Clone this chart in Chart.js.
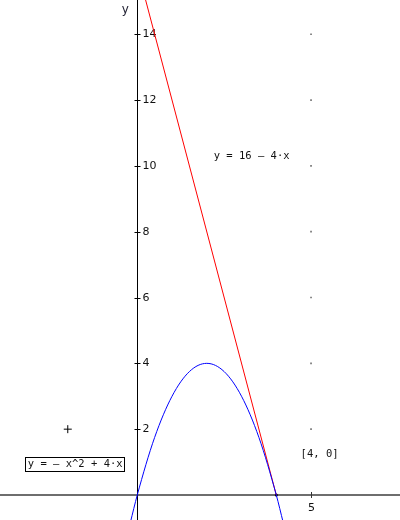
<!DOCTYPE html>
<html>
<head>
<meta charset="utf-8">
<script src="https://cdn.jsdelivr.net/npm/chart.js@4/dist/chart.umd.min.js"></script>
<style>
html,body{margin:0;padding:0;background:#fff;}
#wrap{width:400px;height:520px;position:relative;}
</style>
</head>
<body>
<div id="wrap"><canvas id="c" width="400" height="520"></canvas></div>
<script>
// ---- data ----
const tangentX = [0, 4];
const tangentY = [16, 0];
const parabolaX = [-0.2, 0, 0.5, 1, 1.5, 2, 2.5, 3, 3.5, 4, 4.2];
const parabolaY = [-0.84, 0, 1.75, 3, 3.75, 4, 3.75, 3, 1.75, 0, -0.84];
const yTickValues = [2, 4, 6, 8, 10, 12, 14];
const yTickLabels = ['2', '4', '6', '8', '10', '12', '14'];
const xTickValues = [5];
const xTickLabels = ['5'];
const gridDotX = [5, 5, 5, 5, 5, 5, 5];
const gridDotY = [2, 4, 6, 8, 10, 12, 14];
const markerX = [-2];
const markerY = [2];
const touchX = [4];
const touchY = [0];
const labelTexts = ['y = 16 \u2013 4\u00b7x', '[4, 0]', 'y = \u2013 x^2 + 4\u00b7x'];
const axisName = 'y';

const zip = (xs, ys) => xs.map((x, i) => ({x: x, y: ys[i]}));

// label anchors in data coordinates
const labelAnchors = [
  {x: 2.2, y: 10.3, box: false},
  {x: 4.7, y: 1.25, box: false},
  {x: -3.15, y: 0.92, box: true}
];

const axesPlugin = {
  id: 'axes',
  beforeDatasetsDraw(chart) {
    const ctx = chart.ctx, xs = chart.scales.x, ys = chart.scales.y, ca = chart.chartArea;
    const x0 = Math.round(xs.getPixelForValue(0)) + 0.5;
    const y0 = ys.getPixelForValue(0);
    ctx.save();
    ctx.strokeStyle = '#6e6e6e';
    ctx.lineWidth = 2;
    ctx.beginPath();
    ctx.moveTo(ca.left, Math.round(y0));
    ctx.lineTo(ca.right, Math.round(y0));
    ctx.stroke();
    ctx.strokeStyle = '#000';
    ctx.lineWidth = 1;
    ctx.beginPath();
    ctx.moveTo(x0, ca.top);
    ctx.lineTo(x0, ca.bottom);
    ctx.stroke();
    ctx.font = '11px "DejaVu Sans"';
    ctx.fillStyle = '#111';
    ctx.textBaseline = 'middle';
    ctx.textAlign = 'left';
    yTickValues.forEach((v, i) => {
      const py = Math.round(ys.getPixelForValue(v)) + 0.5;
      ctx.beginPath();
      ctx.moveTo(x0 - 3, py);
      ctx.lineTo(x0 + 3, py);
      ctx.stroke();
      ctx.fillText(yTickLabels[i], x0 + 5, py);
    });
    ctx.strokeStyle = '#333';
    ctx.textAlign = 'center';
    xTickValues.forEach((v, i) => {
      const px = Math.round(xs.getPixelForValue(v)) + 0.5;
      ctx.beginPath();
      ctx.moveTo(px, y0 - 3);
      ctx.lineTo(px, y0 + 3);
      ctx.stroke();
      ctx.fillText(xTickLabels[i], px, y0 + 13);
    });
    ctx.restore();
  },
  afterDatasetsDraw(chart) {
    const ctx = chart.ctx, xs = chart.scales.x, ys = chart.scales.y;
    ctx.save();
    ctx.font = '10.5px "DejaVu Sans Mono"';
    ctx.fillStyle = '#111';
    ctx.textBaseline = 'middle';
    ctx.textAlign = 'left';
    labelTexts.forEach((t, i) => {
      const a = labelAnchors[i];
      const px = xs.getPixelForValue(a.x), py = ys.getPixelForValue(a.y);
      ctx.fillText(t, px, py);
      if (a.box) {
        const w = ctx.measureText(t).width;
        ctx.strokeStyle = '#000';
        ctx.lineWidth = 1;
        ctx.strokeRect(Math.round(px) - 2.5, Math.round(py) - 7.5, Math.round(w) + 4, 14);
      }
    });
    ctx.font = '12px "DejaVu Sans"';
    ctx.fillStyle = '#223';
    ctx.textAlign = 'center';
    ctx.fillText(axisName, xs.getPixelForValue(0) - 12, ys.getPixelForValue(14.75));
    ctx.restore();
  }
};

new Chart(document.getElementById('c'), {
  type: 'scatter',
  data: {
    datasets: [
      {data: zip(gridDotX, gridDotY), pointStyle: 'rect', pointRadius: 1.2, backgroundColor: '#777', borderColor: '#777', borderWidth: 0, showLine: false},
      {data: zip(parabolaX, parabolaY), showLine: true, borderColor: '#0000ff', borderWidth: 1, pointRadius: 0, cubicInterpolationMode: 'monotone'},
      {data: zip(tangentX, tangentY), showLine: true, borderColor: '#ff0000', borderWidth: 1, pointRadius: 0},
      {data: zip(markerX, markerY), pointStyle: 'cross', pointRadius: 4, borderColor: '#000', borderWidth: 1, showLine: false},
      {data: zip(touchX, touchY), pointStyle: 'circle', pointRadius: 1.5, backgroundColor: '#000', borderColor: '#000', borderWidth: 0, showLine: false}
    ]
  },
  options: {
    responsive: false,
    animation: false,
    layout: {padding: 0, autoPadding: false},
    plugins: {legend: {display: false}, tooltip: {enabled: false}},
    scales: {
      x: {type: 'linear', min: -3.95, max: 7.56, display: false},
      y: {type: 'linear', min: -0.76, max: 15.04, display: false}
    }
  },
  plugins: [axesPlugin]
});
</script>
</body>
</html>
